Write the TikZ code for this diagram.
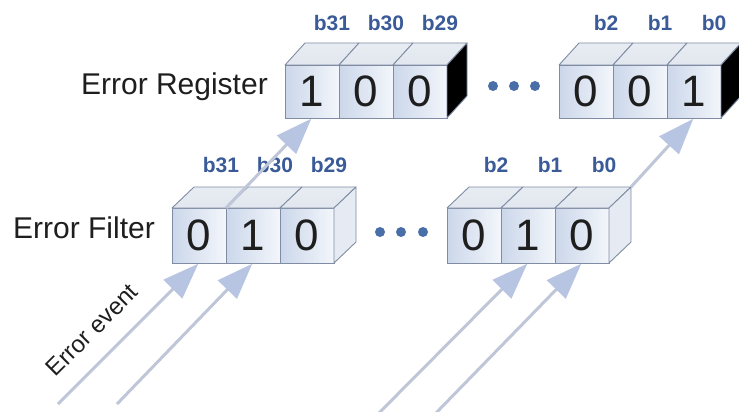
\documentclass[tikz,border=0pt]{standalone}
\usepackage{fontspec}
\setmainfont{Liberation Sans}
\usetikzlibrary{arrows.meta}
\definecolor{edgec}{HTML}{7F8CA3}
\definecolor{lblc}{HTML}{3A5A98}
\definecolor{dotc}{HTML}{4A6EA8}
\definecolor{arrc}{HTML}{B8C5E2}
\definecolor{linec}{HTML}{BEC6D8}
\definecolor{topc}{HTML}{E2E7EF}
\definecolor{sidec}{HTML}{E6EBF3}
\definecolor{frontl}{HTML}{CBD7EA}
\definecolor{frontr}{HTML}{F3F6FB}
\definecolor{txtc}{HTML}{1E1E1E}
\begin{document}
\begin{tikzpicture}[x=1pt,y=-1pt,
  cellbox/.style={draw=edgec, line width=0.9pt, left color=frontl, right color=frontr,
    minimum width=54pt, minimum height=#1, inner sep=0pt, outer sep=0pt,
    anchor=north west, text=txtc, font=\fontsize{44}{44}\selectfont},
  topface/.style={draw=edgec, line width=0.9pt, top color=topc!80!white, bottom color=topc, line join=round},
  blackside/.style={draw=edgec, line width=0.9pt, fill=black, line join=round},
  lightside/.style={draw=edgec, line width=0.9pt, fill=sidec, line join=round},
  bitlbl/.style={text=lblc, font=\fontsize{21}{21}\selectfont\bfseries, inner sep=0pt},
  dotn/.style={circle, fill=dotc, minimum size=10pt, inner sep=0pt},
  rowlbl/.style={anchor=east, text=txtc, font=\fontsize{30}{30}\selectfont, inner sep=0pt},
  evarrow/.style={draw=linec, line width=3pt,
    -{Triangle[length=36pt,width=26pt,fill=arrc,color=arrc]}, shorten >=1pt}
]
\useasboundingbox (0,0) rectangle (739,412);

% ---------- Error Register ----------
\node[cellbox=53pt] (rA1) at (285,65) {1};
\node[cellbox=53pt] (rA2) at (339,65) {0};
\node[cellbox=53pt] (rA3) at (393,65) {0};
\node[cellbox=53pt] (rB1) at (559,65) {0};
\node[cellbox=53pt] (rB2) at (613,65) {0};
\node[cellbox=53pt] (rB3) at (667,65) {1};
\foreach \c in {rA1,rA2,rA3,rB1,rB2,rB3}{
  \draw[topface] (\c.north west) -- ++(20,-22) -- ++(54,0) -- ++(-20,22) -- cycle;
}
\draw[blackside] (rA3.north east) -- ++(20,-22) -- ++(0,53) -- (rA3.south east) -- cycle;
\draw[blackside] (rB3.north east) -- ++(20,-22) -- ++(0,53) -- (rB3.south east) -- cycle;

\node[bitlbl] (lr31) at ([shift={(20,-42)}]rA1.north) {b31};
\node[bitlbl] (lr30) at ([shift={(20,-42)}]rA2.north) {b30};
\node[bitlbl] (lr29) at ([shift={(20,-42)}]rA3.north) {b29};
\node[bitlbl] (lr2) at ([shift={(20,-42)}]rB1.north) {b2};
\node[bitlbl] (lr1) at ([shift={(20,-42)}]rB2.north) {b1};
\node[bitlbl] (lr0) at ([shift={(20,-42)}]rB3.north) {b0};

\node[dotn] (rd1) at (493,86) {};
\node[dotn] (rd2) at (514,86) {};
\node[dotn] (rd3) at (535,86) {};

\node[rowlbl] (reglbl) at (268,87) {Error Register};

% ---------- Error Filter ----------
\node[cellbox=55pt] (fA1) at (172,208) {0};
\node[cellbox=55pt] (fA2) at (226,208) {1};
\node[cellbox=55pt] (fA3) at (280,208) {0};
\node[cellbox=55pt] (fB1) at (447,208) {0};
\node[cellbox=55pt] (fB2) at (501,208) {1};
\node[cellbox=55pt] (fB3) at (555,208) {0};
\foreach \c in {fA1,fA2,fA3,fB1,fB2,fB3}{
  \draw[topface] (\c.north west) -- ++(22,-21) -- ++(54,0) -- ++(-22,21) -- cycle;
}
\draw[lightside] (fA3.north east) -- ++(22,-21) -- ++(0,55) -- (fA3.south east) -- cycle;
\draw[lightside] (fB3.north east) -- ++(22,-21) -- ++(0,55) -- (fB3.south east) -- cycle;

\node[bitlbl] (lf31) at ([shift={(22,-43)}]fA1.north) {b31};
\node[bitlbl] (lf30) at ([shift={(22,-43)}]fA2.north) {b30};
\node[bitlbl] (lf29) at ([shift={(22,-43)}]fA3.north) {b29};
\node[bitlbl] (lf2) at ([shift={(22,-43)}]fB1.north) {b2};
\node[bitlbl] (lf1) at ([shift={(22,-43)}]fB2.north) {b1};
\node[bitlbl] (lf0) at ([shift={(22,-43)}]fB3.north) {b0};

\node[dotn] (fd1) at (380,232) {};
\node[dotn] (fd2) at (401,232) {};
\node[dotn] (fd3) at (423,232) {};

\node[rowlbl] (fltlbl) at (155,228) {Error Filter};

% ---------- arrows ----------
\coordinate (s1) at (58,404);
\coordinate (s2) at (117,404);
\coordinate (s3) at (378,414);
\coordinate (s4) at (435,414);
\coordinate (s6) at ([shift={(22,-21)}]fB3.north east);

\draw[evarrow] (s1) -- (fA1.south);
\draw[evarrow] (s2) -- (fA2.south);
\draw[evarrow] (s3) -- (fB2.south);
\draw[evarrow] (s4) -- (fB3.south);
\draw[evarrow] (fA2.north west) -- (rA1.south);
\draw[evarrow] (s6) -- (rB3.south);

\node[text=txtc, font=\fontsize{24}{24}\selectfont, rotate=45, inner sep=0pt] (evlbl) at (92,330) {Error event};
\end{tikzpicture}
\end{document}
